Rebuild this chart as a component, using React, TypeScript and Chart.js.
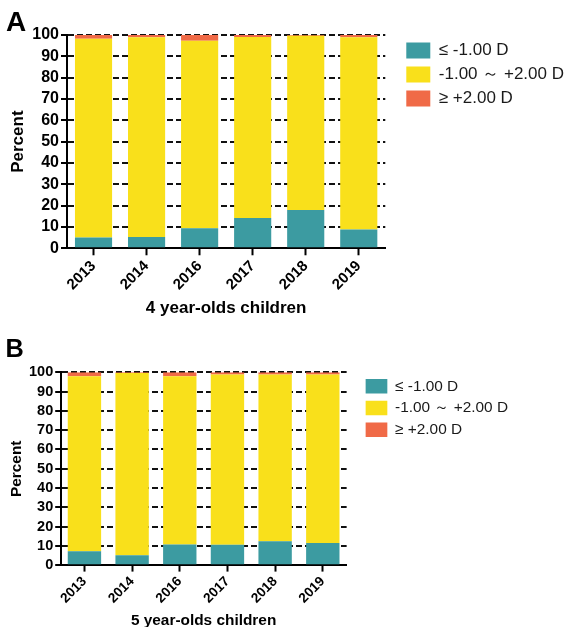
import React, { useEffect, useRef } from 'react';
import { Chart, registerables } from 'chart.js';

Chart.register(...registerables);

const years = ['2013', '2014', '2016', '2017', '2018', '2019'];
const seriesLabels = ['≤ -1.00 D', '-1.00 ～ +2.00 D', '≥ +2.00 D'];
const seriesColors = ['#3C9BA1', '#F9E01B', '#F06A47'];
const yTickValues = [0, 10, 20, 30, 40, 50, 60, 70, 80, 90, 100];

// Panel A: 4 year-olds
const aLow = [5.0, 5.3, 9.4, 14.2, 18.0, 8.8];
const aMid = [93.3, 93.6, 87.9, 84.9, 81.7, 90.2];
const aHigh = [1.7, 1.1, 2.7, 0.9, 0.3, 1.0];

// Panel B: 5 year-olds
const bLow = [7.3, 5.2, 10.8, 10.6, 12.5, 11.6];
const bMid = [90.7, 94.5, 87.2, 88.2, 86.4, 87.2];
const bHigh = [2.0, 0.3, 2.0, 1.2, 1.1, 1.2];

const FAMILY = "'Liberation Sans', Arial, Helvetica, sans-serif";

type PanelProps = {
  top: number;
  height: number;
  s: number;
  letter: string;
  xTitle: string;
  low: number[];
  mid: number[];
  high: number[];
  titleTop: number;
  titleBottom: number;
  padL: number;
  padR: number;
  padB: number;
};

function Panel(p: PanelProps) {
  const ref = useRef<HTMLCanvasElement>(null);
  useEffect(() => {
    const s = p.s;
    const f = (n: number) => Math.round(n * s * 10) / 10;
    const values = [p.low, p.mid, p.high];
    const chart = new Chart(ref.current as HTMLCanvasElement, {
      type: 'bar',
      data: {
        labels: years,
        datasets: values.map((d, i) => ({
          label: seriesLabels[i],
          data: d,
          backgroundColor: seriesColors[i],
          borderWidth: 0,
          categoryPercentage: 0.7,
          barPercentage: 1.0,
        })),
      },
      options: {
        responsive: false,
        animation: false,
        devicePixelRatio: 1,
        layout: { padding: { left: p.padL, right: p.padR, top: 0, bottom: p.padB } },
        plugins: {
          title: {
            display: true,
            text: p.letter,
            align: 'start',
            color: '#000',
            font: { size: f(28), weight: 'bold', family: FAMILY, lineHeight: 1 },
            padding: { top: p.titleTop, bottom: p.titleBottom },
          },
          legend: {
            position: 'right',
            align: 'start',
            fullSize: false,
            maxWidth: 240,
            labels: {
              boxWidth: f(24),
              boxHeight: f(16),
              padding: f(7),
              color: '#1a1a1a',
              font: { size: f(17), family: FAMILY },
            },
          },
          tooltip: { enabled: false },
        },
        scales: {
          x: {
            stacked: true,
            afterFit: (scale: any) => {
              scale.paddingLeft = 0;
              scale.paddingRight = 0;
            },
            grid: {
              display: true,
              drawOnChartArea: false,
              drawTicks: true,
              tickLength: f(7),
              tickWidth: 2,
              tickColor: '#000',
              offset: false,
            },
            border: { display: true, color: '#000', width: 2 },
            ticks: {
              color: '#000',
              font: { size: f(15), weight: 'bold', family: FAMILY },
              minRotation: 45,
              maxRotation: 45,
              autoSkip: false,
              padding: 2,
            },
            title: {
              display: true,
              text: p.xTitle,
              color: '#000',
              font: { size: f(17), weight: 'bold', family: FAMILY },
              padding: { top: 3, bottom: 1 },
            },
          },
          y: {
            stacked: true,
            min: 0,
            max: 100,
            afterBuildTicks: (scale: any) => {
              scale.ticks = yTickValues.map((v) => ({ value: v }));
            },
            afterFit: (scale: any) => {
              scale.width = f(61);
            },
            grid: {
              color: '#111',
              lineWidth: 2,
              drawTicks: true,
              tickLength: f(6),
              tickWidth: 2,
              tickColor: '#000',
            },
            border: { display: true, color: '#000', width: 2, dash: [6, 3] },
            ticks: {
              color: '#000',
              font: { size: f(16), weight: 'bold', family: FAMILY },
              autoSkip: false,
              padding: 2,
            },
            title: {
              display: true,
              text: 'Percent',
              color: '#000',
              font: { size: f(17), weight: 'bold', family: FAMILY },
              padding: { top: f(2), bottom: 4 },
            },
          },
          gap: {
            type: 'linear',
            position: 'right',
            display: true,
            grid: { display: false, drawTicks: false },
            border: { display: false },
            ticks: { display: false },
            afterFit: (scale: any) => {
              scale.width = f(14);
            },
          },
        },
      } as any,
    });
    return () => chart.destroy();
  }, []);
  return (
    <canvas
      ref={ref}
      width={574}
      height={p.height}
      style={{ position: 'absolute', left: 0, top: p.top, display: 'block' }}
    />
  );
}

export default function App() {
  return (
    <div style={{ position: 'absolute', left: 0, top: 0, width: 574, height: 627, background: '#fff' }}>
      <Panel
        top={0}
        height={322}
        s={1}
        letter="A"
        xTitle="4 year-olds children"
        low={aLow}
        mid={aMid}
        high={aHigh}
        titleTop={9}
        titleBottom={-2}
        padL={6}
        padR={0}
        padB={2}
      />
      <Panel
        top={333}
        height={294}
        s={0.905}
        letter="B"
        xTitle="5 year-olds children"
        low={bLow}
        mid={bMid}
        high={bHigh}
        titleTop={4}
        titleBottom={10}
        padL={5.4}
        padR={56}
        padB={-4}
      />
    </div>
  );
}
